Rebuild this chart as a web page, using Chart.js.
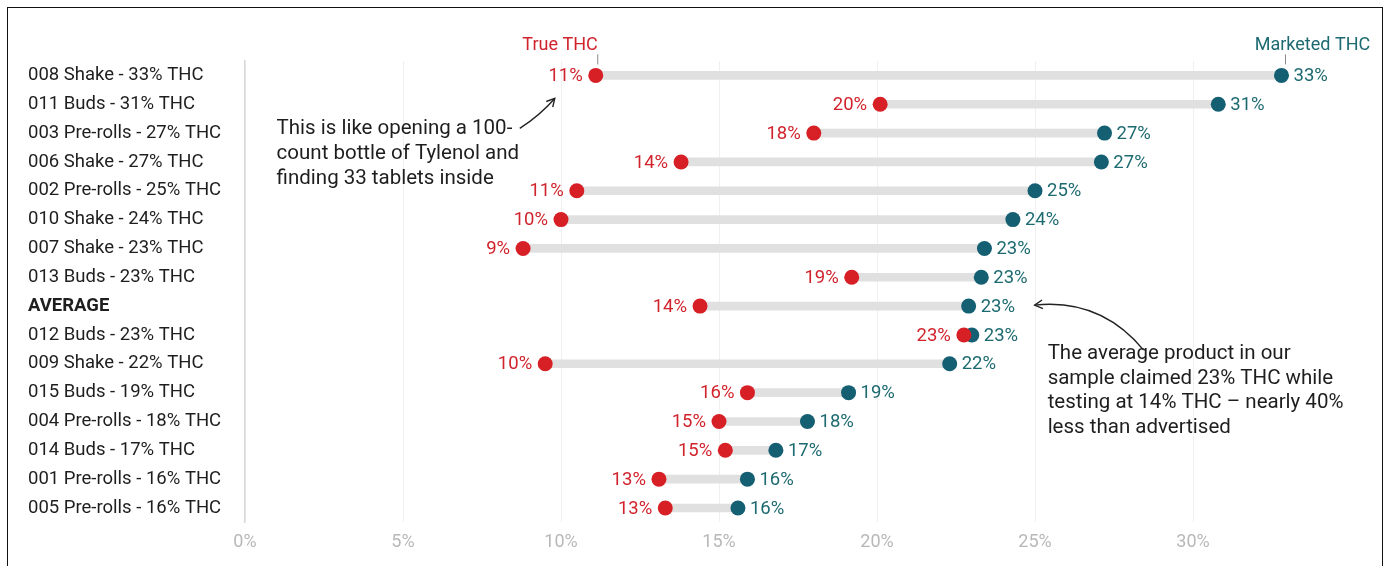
<!DOCTYPE html>
<html>
<head>
<meta charset="utf-8">
<script src="https://cdn.jsdelivr.net/npm/chart.js@4.4.1/dist/chart.umd.min.js"></script>
<style>
  html, body { margin: 0; padding: 0; background: #fff; overflow: hidden; }
  #wrap { position: absolute; left: 0; top: 0; width: 1389px; height: 566px; }
  #frame {
    position: absolute; left: 7px; top: 7px; width: 1374px; height: 620px;
    border: 1.5px solid #111; pointer-events: none;
  }
</style>
</head>
<body>
<div id="wrap"><canvas id="chart" width="1389" height="566"></canvas></div>
<div id="frame"></div>
<script>
const products = [
  "008 Shake - 33% THC", "011 Buds - 31% THC", "003 Pre-rolls - 27% THC",
  "006 Shake - 27% THC", "002 Pre-rolls - 25% THC", "010 Shake - 24% THC",
  "007 Shake - 23% THC", "013 Buds - 23% THC", "AVERAGE",
  "012 Buds - 23% THC", "009 Shake - 22% THC", "015 Buds - 19% THC",
  "004 Pre-rolls - 18% THC", "014 Buds - 17% THC", "001 Pre-rolls - 16% THC",
  "005 Pre-rolls - 16% THC"
];

// tested ("true") THC, percent
const trueThc = [11.1, 20.1, 18.0, 13.8, 10.5, 10.0, 8.8, 19.2, 14.4, 22.75, 9.5, 15.9, 15.0, 15.2, 13.1, 13.3];
// THC on the label, percent
const marketedThc = [32.8, 30.8, 27.2, 27.1, 25.0, 24.3, 23.4, 23.3, 22.9, 23.0, 22.3, 19.1, 17.8, 16.8, 15.9, 15.6];

const trueLabels = ["11%", "20%", "18%", "14%", "11%", "10%", "9%", "19%", "14%", "23%", "10%", "16%", "15%", "15%", "13%", "13%"];
const marketedLabels = ["33%", "31%", "27%", "27%", "25%", "24%", "23%", "23%", "23%", "23%", "22%", "19%", "18%", "17%", "16%", "16%"];

const xTicks = [0, 5, 10, 15, 20, 25, 30];

const RED = "#d71f26";
const BLUE = "#145f72";
const RED_TEXT = "#d1232c";
const BLUE_TEXT = "#1d6a70";
const FONT = "Roboto, 'Noto Sans', sans-serif";

const ranges = trueThc.map((v, i) => [v, marketedThc[i]]);

// value labels, column headers and the two notes
const extras = {
  id: "extras",
  afterDatasetsDraw(chart) {
    const ctx = chart.ctx;
    const xs = chart.scales.x;
    const ys = chart.scales.y;
    const redPts = chart.getDatasetMeta(0).data;
    const bluePts = chart.getDatasetMeta(1).data;

    ctx.save();
    ctx.font = "18.5px " + FONT;
    ctx.textBaseline = "middle";
    redPts.forEach((p, i) => {
      ctx.fillStyle = RED_TEXT;
      ctx.textAlign = "right";
      ctx.fillText(trueLabels[i], p.x - 13, p.y + 1);
    });
    bluePts.forEach((p, i) => {
      ctx.fillStyle = BLUE_TEXT;
      ctx.textAlign = "left";
      ctx.fillText(marketedLabels[i], p.x + 12, p.y + 1);
    });

    // headers
    ctx.font = "18px " + FONT;
    ctx.textBaseline = "middle";
    const r0 = redPts[0], b0 = bluePts[0];
    ctx.fillStyle = RED_TEXT;
    ctx.textAlign = "right";
    ctx.fillText("True THC", r0.x + 2, r0.y - 30);
    ctx.fillStyle = BLUE_TEXT;
    ctx.textAlign = "center";
    ctx.fillText("Marketed THC", b0.x + 31, b0.y - 30);
    ctx.strokeStyle = "#888";
    ctx.lineWidth = 1;
    ctx.beginPath();
    ctx.moveTo(r0.x + 2, r0.y - 21); ctx.lineTo(r0.x + 2, r0.y - 11);
    ctx.moveTo(b0.x + 4, b0.y - 21); ctx.lineTo(b0.x + 4, b0.y - 11);
    ctx.stroke();

    // notes
    ctx.fillStyle = "#1e1e1e";
    ctx.font = "20.5px " + FONT;
    ctx.textAlign = "left";
    ctx.textBaseline = "middle";
    const n1x = xs.getPixelForValue(1);
    const n1y = ys.getPixelForValue(2) - 4;
    ["This is like opening a 100-", "count bottle of Tylenol and", "finding 33 tablets inside"]
      .forEach((t, k) => ctx.fillText(t, n1x, n1y + k * 25));
    const avg = bluePts[8];
    const n2x = xs.getPixelForValue(25.4);
    const n2y = avg.y + 48;
    ["The average product in our", "sample claimed 23% THC while",
     "testing at 14% THC – nearly 40%", "less than advertised"]
      .forEach((t, k) => ctx.fillText(t, n2x, n2y + k * 24.5));

    // arrows
    ctx.strokeStyle = "#222";
    ctx.lineWidth = 1.4;
    const a1 = { x: r0.x - 76, y: r0.y + 53 };
    const a1e = { x: r0.x - 41, y: r0.y + 23 };
    const c1 = { x: r0.x - 56, y: r0.y + 40 };
    ctx.beginPath();
    ctx.moveTo(a1.x, a1.y);
    ctx.quadraticCurveTo(c1.x, c1.y, a1e.x, a1e.y);
    ctx.stroke();
    arrowHead(ctx, a1e.x, a1e.y, Math.atan2(a1e.y - c1.y, a1e.x - c1.x));

    const a2 = { x: avg.x + 175, y: avg.y + 44 };
    const a2e = { x: avg.x + 66, y: avg.y - 1 };
    const c2 = { x: avg.x + 132, y: avg.y - 8 };
    ctx.beginPath();
    ctx.moveTo(a2.x, a2.y);
    ctx.quadraticCurveTo(c2.x, c2.y, a2e.x, a2e.y);
    ctx.stroke();
    arrowHead(ctx, a2e.x, a2e.y, Math.atan2(a2e.y - c2.y, a2e.x - c2.x));
    ctx.restore();
  }
};

function arrowHead(ctx, x, y, ang) {
  const len = 9, spread = 0.5;
  ctx.beginPath();
  ctx.moveTo(x - len * Math.cos(ang - spread), y - len * Math.sin(ang - spread));
  ctx.lineTo(x, y);
  ctx.lineTo(x - len * Math.cos(ang + spread), y - len * Math.sin(ang + spread));
  ctx.stroke();
}

new Chart(document.getElementById("chart"), {
  data: {
    labels: products,
    datasets: [
      {
        type: "line", label: "True THC", data: trueThc, showLine: false,
        pointRadius: 7.5, pointHoverRadius: 7.5, pointBackgroundColor: RED,
        pointBorderColor: RED, pointBorderWidth: 0, order: 0
      },
      {
        type: "line", label: "Marketed THC", data: marketedThc, showLine: false,
        pointRadius: 7.5, pointHoverRadius: 7.5, pointBackgroundColor: BLUE,
        pointBorderColor: BLUE, pointBorderWidth: 0, order: 1
      },
      {
        type: "bar", label: "gap", data: ranges, backgroundColor: "#e0e0e0",
        barThickness: 8, borderSkipped: false, order: 2
      }
    ]
  },
  options: {
    indexAxis: "y",
    responsive: false,
    animation: false,
    layout: { padding: { left: 28, top: 61, right: 38, bottom: 4 } },
    plugins: { legend: { display: false }, tooltip: { enabled: false } },
    scales: {
      x: {
        type: "linear", min: 0, max: 35,
        afterBuildTicks: (s) => { s.ticks = xTicks.map((v) => ({ value: v })); },
        grid: { color: "#f0f0f0", drawTicks: false },
        border: { display: false },
        ticks: {
          padding: 9, color: "#b8b8b8",
          font: { family: FONT, size: 18 },
          callback: (v) => v + "%"
        }
      },
      y: {
        type: "category",
        afterFit: (s) => { s.width = 217; },
        grid: { display: false, drawTicks: false },
        border: { display: true, color: "#d8d8d8", width: 1.5 },
        ticks: {
          crossAlign: "far", color: "#1e1e1e",
          font: (c) => ({
            family: FONT, size: 18.5,
            weight: c.tick && c.tick.label === "AVERAGE" ? "bold" : "normal"
          })
        }
      }
    }
  },
  plugins: [extras]
});
</script>
</body>
</html>
